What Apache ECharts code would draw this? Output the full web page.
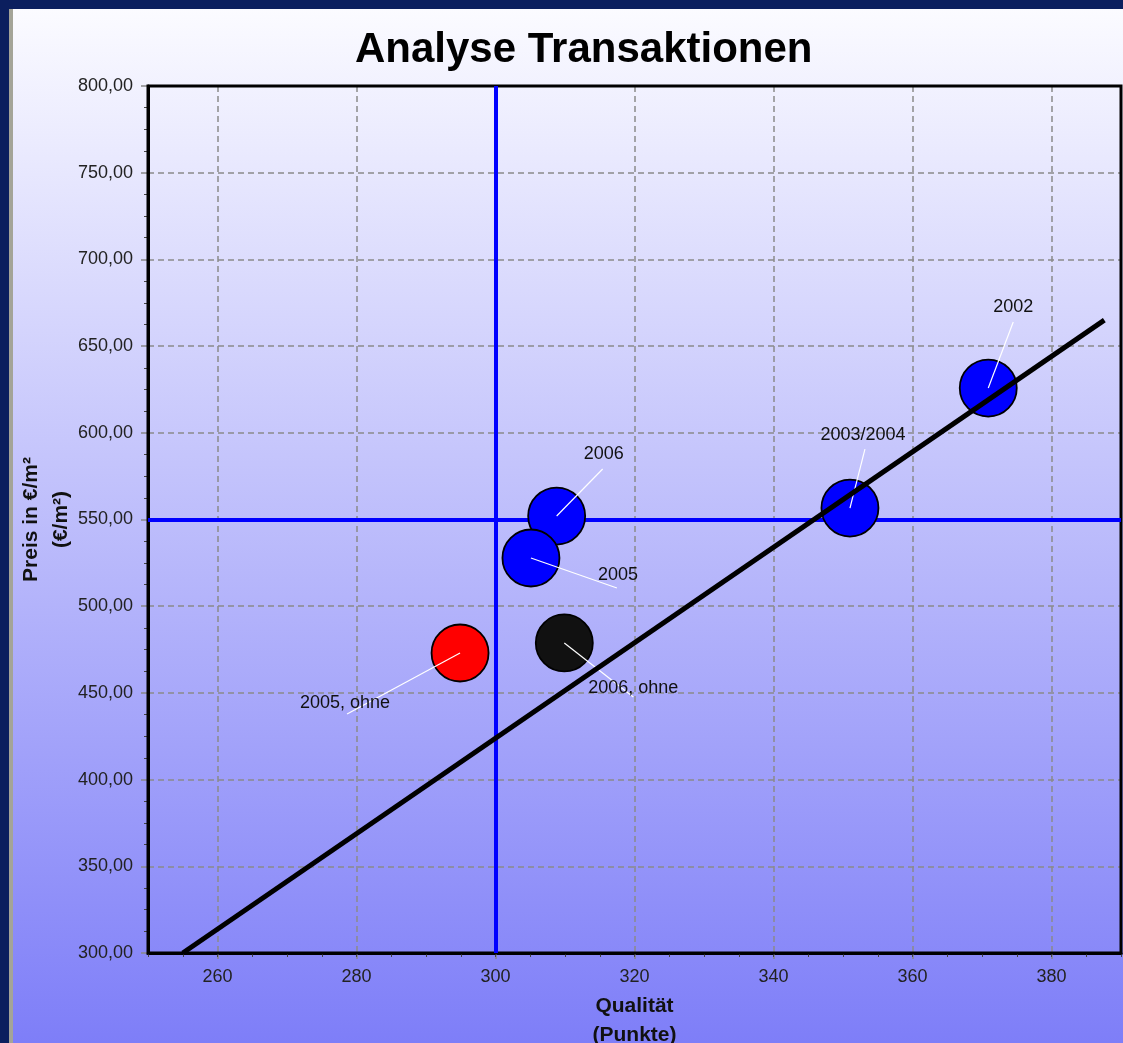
<!DOCTYPE html>
<html>
<head>
<meta charset="utf-8">
<title>Analyse Transaktionen</title>
<script src="https://cdn.jsdelivr.net/npm/echarts@6/dist/echarts.min.js"></script>
<style>
html, body { margin: 0; padding: 0; background: #0b1f5e; }
#panel {
    position: absolute; left: 9px; top: 9px; width: 1114px; height: 1034px;
    box-sizing: border-box; border-left: 4px solid #a4a498;
    background: linear-gradient(to bottom, #fbfbff, #7e7ef8);
}
#main { position: absolute; left: 0; top: 0; width: 1123px; height: 1043px; }
</style>
</head>
<body>
<div id="panel"></div>
<div id="main"></div>
<script>
// Transaktionen: Qualität (Punkte) / Preis (€/m²)
var names = ['2002', '2003/2004', '2006', '2005', '2005, ohne', '2006, ohne'];
var quality = [370.9, 351.0, 308.8, 305.1, 294.9, 309.9];
var price = [625.8, 556.6, 552.0, 527.8, 473.0, 478.8];

// Trendlinie
var trendX = [255, 387.6];
var trendY = [300, 665];

// Referenzlinien
var refQuality = 300;
var refPrice = 550;

// Achsen
var xMin = 250, xMax = 390;
var yMin = 300, yMax = 800, yStep = 50;

var pointColors = ['#0000ff', '#0000ff', '#0000ff', '#0000ff', '#ff0000', '#111111'];
// Beschriftung: Linienende und Textmitte relativ zum Punkt (px)
var labelPos = [
    {line: [25, -66], text: [25, -81]},
    {line: [15, -59], text: [13, -73]},
    {line: [46, -47], text: [47, -62]},
    {line: [86, 30], text: [87, 17]},
    {line: [-113, 61], text: [-115, 50]},
    {line: [69, 54], text: [69, 45]}
];

var points = [], trend = [];
quality.forEach(function (q, i) {
    points.push({
        value: [q, price[i]],
        itemStyle: {color: pointColors[i]}
    });
});
trendX.forEach(function (x, i) {
    trend.push([x, trendY[i]]);
});

var font = 'Liberation Sans';
var myChart = echarts.init(document.getElementById('main'));
var option = {
    backgroundColor: 'transparent',
    animation: false,
    title: {
        text: 'Analyse Transaktionen',
        left: 350,
        top: 24,
        textStyle: {fontFamily: font, fontSize: 42, fontWeight: 'bold', color: '#000'}
    },
    grid: {
        left: 148, right: 2, top: 86, bottom: 90,
        containLabel: false,
        outerBoundsMode: 'none',
        show: true, borderColor: '#000', borderWidth: 3,
        backgroundColor: 'transparent',
        z: 1
    },
    xAxis: [{
        type: 'value',
        min: xMin,
        max: xMax,
        splitNumber: 7,
        name: 'Qualität\n(Punkte)',
        nameLocation: 'middle',
        nameGap: 39,
        nameMoveOverlap: false,
        nameTextStyle: {fontFamily: font, fontSize: 21, fontWeight: 'bold', color: '#111', lineHeight: 29},
        axisLine: {show: true, onZero: false, lineStyle: {color: '#000', width: 3}},
        axisTick: {show: true, length: 6, lineStyle: {color: '#888', width: 1.5}},
        axisLabel: {
            showMinLabel: false, showMaxLabel: false,
            margin: 15, color: '#222', fontFamily: font, fontSize: 18
        },
        splitLine: {show: true, lineStyle: {color: '#8a8a8a', width: 1.5, type: [6, 4]}}
    }, {
        // kleine Striche alle 5 Punkte
        type: 'value',
        min: xMin,
        max: xMax,
        interval: 5,
        position: 'bottom',
        axisLine: {show: false},
        axisTick: {show: true, length: 4, lineStyle: {color: '#444', width: 1}},
        axisLabel: {show: false},
        splitLine: {show: false}
    }],
    yAxis: {
        type: 'value',
        min: yMin,
        max: yMax,
        interval: yStep,
        name: 'Preis in €/m²\n(€/m²)',
        nameLocation: 'middle',
        nameGap: 72,
        nameMoveOverlap: false,
        nameTextStyle: {fontFamily: font, fontSize: 21, fontWeight: 'bold', color: '#111', lineHeight: 30},
        axisLine: {show: true, onZero: false, lineStyle: {color: '#000', width: 3}},
        axisTick: {show: true, length: 7, lineStyle: {color: '#888', width: 1.5}},
        minorTick: {show: true, splitNumber: 4, length: 4, lineStyle: {color: '#444', width: 1}},
        axisLabel: {
            margin: 15, color: '#222', fontFamily: font, fontSize: 18,
            formatter: function (v) { return v.toFixed(2).replace('.', ','); }
        },
        splitLine: {show: true, lineStyle: {color: '#8a8a8a', width: 1.5, type: [6, 4]}}
    },
    series: [{
        name: 'Transaktionen',
        type: 'scatter',
        data: points,
        symbolSize: 57,
        z: 3,
        itemStyle: {borderColor: '#000', borderWidth: 1.8, opacity: 1},
        markLine: {
            silent: true,
            symbol: 'none',
            label: {show: false},
            z: 2,
            lineStyle: {color: '#0000ff', width: 4, type: 'solid'},
            data: [{xAxis: refQuality}, {yAxis: refPrice}]
        }
    }, {
        name: 'Beschriftung',
        type: 'custom',
        data: points,
        z: 4,
        silent: true,
        renderItem: function (params, api) {
            var c = api.coord([api.value(0), api.value(1)]);
            var p = labelPos[params.dataIndex];
            return {
                type: 'group',
                children: [{
                    type: 'line',
                    shape: {x1: c[0], y1: c[1], x2: c[0] + p.line[0], y2: c[1] + p.line[1]},
                    style: {stroke: '#ffffff', lineWidth: 1.2}
                }, {
                    type: 'text',
                    x: c[0] + p.text[0],
                    y: c[1] + p.text[1],
                    style: {
                        text: names[params.dataIndex],
                        fill: '#111',
                        font: '18px "Liberation Sans"',
                        align: 'center',
                        verticalAlign: 'middle'
                    }
                }]
            };
        }
    }, {
        name: 'Trend',
        type: 'line',
        data: trend,
        z: 5,
        symbol: 'none',
        silent: true,
        lineStyle: {color: '#000', width: 5}
    }]
};
myChart.setOption(option);
</script>
</body>
</html>
